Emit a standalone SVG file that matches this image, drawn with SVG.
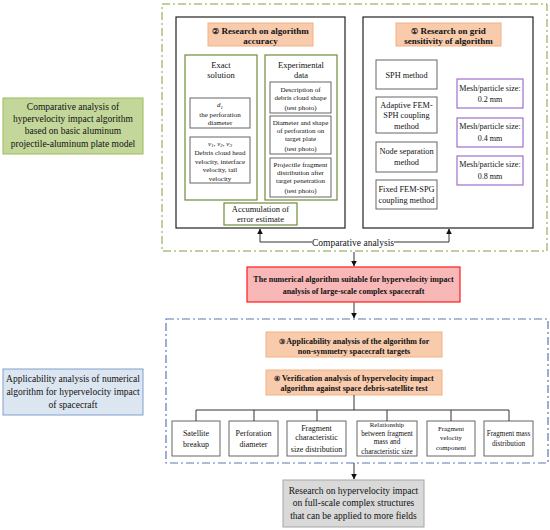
<svg xmlns="http://www.w3.org/2000/svg" width="550" height="530" viewBox="0 0 550 530" font-family="'Liberation Serif', serif">
<style>
text{font-family:'Liberation Serif',serif;fill:#111;text-anchor:middle}
.b{font-weight:bold}
.f95{font-size:9.5px}.f9{font-size:9px}.f85{font-size:8.5px}.f83{font-size:8.3px}.f81{font-size:8.1px}.f8{font-size:8px}.f72{font-size:7.2px}.f7{font-size:7px}.f68{font-size:6.8px}
.blk{fill:#fff;stroke:#222;stroke-width:1.2}
.org{fill:#f8cbad;stroke:#f4b183;stroke-width:1}
.grn{fill:#fff;stroke:#6f8a3c;stroke-width:1.2}
.gry{fill:#fff;stroke:#666;stroke-width:1}
.pur{fill:#fff;stroke:#9e6fcf;stroke-width:1.2}
.line{fill:none;stroke:#333;stroke-width:1}
.cd{font-size:7.5px}
</style>
<defs>
<marker id="ah" viewBox="0 0 10 10" refX="9" refY="5" markerWidth="6" markerHeight="6" orient="auto-start-reverse" markerUnits="userSpaceOnUse">
<path d="M0,0 L10,5 L0,10 z" fill="#111"/>
</marker>
</defs>
<rect width="550" height="530" fill="#fff"/>

<g id="zone-green">
<rect x="162" y="4" width="385" height="247" fill="none" stroke="#7aa03c" stroke-width="1" stroke-dasharray="8,3,2,3"/>
</g>
<g id="zone-blue">
<rect x="166" y="319" width="382" height="144" fill="none" stroke="#5b78b0" stroke-width="1.2" stroke-dasharray="8,3,2,3"/>
</g>

<g id="left-green">
<rect x="3" y="98" width="140" height="56" fill="#c4d79b" stroke="#9bbb59" stroke-width="1"/>
<text class="f95" x="73" y="110">Comparative analysis of</text>
<text class="f95" x="73" y="122">hypervelocity impact algorithm</text>
<text class="f95" x="73" y="134">based on basic aluminum</text>
<text class="f95" x="73" y="147">projectile-aluminum plate model</text>
</g>
<g id="left-blue">
<rect x="3" y="369" width="140" height="46" fill="#dce6f1" stroke="#7f9fcf" stroke-width="1"/>
<text class="f95" x="73" y="382">Applicability analysis of numerical</text>
<text class="f95" x="73" y="395">algorithm for hypervelocity impact</text>
<text class="f95" x="73" y="408">of spacecraft</text>
</g>

<g id="accuracy">
<rect class="blk" x="176" y="17" width="169" height="211"/>
<rect class="org" x="208" y="23" width="105" height="23"/>
<text class="f9 b" x="260.5" y="34"><tspan class="cd">②</tspan> Research on algorithm</text>
<text class="f9 b" x="260.5" y="44">accuracy</text>
</g>
<g id="exact">
<rect class="grn" x="185" y="55" width="72" height="145"/>
<text class="f85" x="221" y="68">Exact</text>
<text class="f85" x="221" y="78">solution</text>
</g>
<g id="d1">
<rect class="gry" x="190" y="98" width="60" height="30"/>
<text class="f7" x="220" y="107" font-style="italic">d<tspan font-size="5" dy="1.5">1</tspan></text>
<text class="f7" x="220" y="116.5">the perforation</text>
<text class="f7" x="220" y="124.5">diameter</text>
</g>
<g id="v123">
<rect class="gry" x="190" y="137" width="60" height="46"/>
<text class="f7" x="220" y="145.5" font-style="italic">v<tspan font-size="5" dy="1.5">1</tspan><tspan dy="-1.5" font-style="normal">, </tspan>v<tspan font-size="5" dy="1.5">2</tspan><tspan dy="-1.5" font-style="normal">, </tspan>v<tspan font-size="5" dy="1.5">3</tspan></text>
<text class="f7" x="220" y="154.5">Debris cloud head</text>
<text class="f7" x="220" y="163.5">velocity, interface</text>
<text class="f7" x="220" y="172">velocity, tail</text>
<text class="f7" x="220" y="180.5">velocity</text>
</g>
<g id="experimental">
<rect class="grn" x="265" y="55" width="72" height="145"/>
<text class="f85" x="301" y="68">Experimental</text>
<text class="f85" x="301" y="78">data</text>
</g>
<g id="desc">
<rect class="gry" x="270" y="82" width="61" height="31"/>
<text class="f7" x="300.5" y="91.5">Description of</text>
<text class="f7" x="300.5" y="99.5">debris cloud shape</text>
<text class="f7" x="300.5" y="109.5">(test photo)</text>
</g>
<g id="diam">
<rect class="gry" x="270" y="116" width="61" height="38"/>
<text class="f7" x="300.5" y="124.5">Diameter and shape</text>
<text class="f7" x="300.5" y="132.5">of perforation on</text>
<text class="f7" x="300.5" y="140.5">target plate</text>
<text class="f7" x="300.5" y="150.5">(test photo)</text>
</g>
<g id="proj">
<rect class="gry" x="270" y="158" width="61" height="39"/>
<text class="f7" x="300.5" y="166.5">Projectile fragment</text>
<text class="f7" x="300.5" y="174.5">distribution after</text>
<text class="f7" x="300.5" y="182.5">target penetration</text>
<text class="f7" x="300.5" y="192.5">(test photo)</text>
</g>
<g id="accum">
<rect class="grn" x="224" y="203" width="73" height="22"/>
<text class="f85" x="260.5" y="212">Accumulation of</text>
<text class="f85" x="260.5" y="222">error estimate</text>
</g>

<g id="grid">
<rect class="blk" x="363" y="17" width="170" height="211"/>
<rect class="org" x="396" y="23" width="105" height="23"/>
<text class="f9 b" x="448.5" y="34"><tspan class="cd">①</tspan> Research on grid</text>
<text class="f9 b" x="448.5" y="44">sensitivity of algorithm</text>
</g>
<g id="sph">
<rect class="gry" x="376" y="60" width="61" height="29"/>
<text class="f83" x="406.5" y="78">SPH method</text>
</g>
<g id="adaptive">
<rect class="gry" x="376" y="97" width="61" height="36"/>
<text class="f83" x="406.5" y="108">Adaptive FEM-</text>
<text class="f83" x="406.5" y="117.5">SPH coupling</text>
<text class="f83" x="406.5" y="129">method</text>
</g>
<g id="node">
<rect class="gry" x="376" y="142" width="61" height="30"/>
<text class="f83" x="406.5" y="154">Node separation</text>
<text class="f83" x="406.5" y="165">method</text>
</g>
<g id="fixed">
<rect class="gry" x="376" y="180" width="61" height="29"/>
<text class="f83" x="406.5" y="192">Fixed FEM-SPG</text>
<text class="f83" x="406.5" y="203">coupling method</text>
</g>
<g id="mesh1">
<rect class="pur" x="457" y="79" width="66" height="29"/>
<text class="f81" x="490" y="91">Mesh/particle size:</text>
<text class="f81" x="490" y="102">0.2 mm</text>
</g>
<g id="mesh2">
<rect class="pur" x="457" y="118" width="66" height="29"/>
<text class="f81" x="490" y="129">Mesh/particle size:</text>
<text class="f81" x="490" y="141">0.4 mm</text>
</g>
<g id="mesh3">
<rect class="pur" x="457" y="156" width="66" height="29"/>
<text class="f81" x="490" y="167">Mesh/particle size:</text>
<text class="f81" x="490" y="179">0.8 mm</text>
</g>

<g id="numerical">
<rect x="247" y="267" width="213" height="35" fill="#f9b8b8" stroke="#ff1a1a" stroke-width="1.2"/>
<text class="f8 b" x="353.5" y="282">The numerical algorithm suitable for hypervelocity impact</text>
<text class="f8 b" x="353.5" y="293.5">analysis of  large-scale complex spacecraft</text>
</g>
<g id="step3">
<rect class="org" x="266" y="332" width="176" height="25"/>
<text class="f8 b" x="354" y="344"><tspan font-size="7">③</tspan> Applicability analysis of the algorithm for</text>
<text class="f8 b" x="354" y="354">non-symmetry spacecraft targets</text>
</g>
<g id="step4">
<rect class="org" x="266" y="370" width="176" height="25"/>
<text class="f8 b" x="354" y="381"><tspan font-size="7">④</tspan> Verification analysis of hypervelocity impact</text>
<text class="f8 b" x="354" y="391">algorithm against space debris-satellite test</text>
</g>
<g id="b1">
<rect class="gry" x="172" y="421" width="48" height="35"/>
<text class="f8" x="196" y="436">Satellite</text>
<text class="f8" x="196" y="447">breakup</text>
</g>
<g id="b2">
<rect class="gry" x="229" y="421" width="49" height="35"/>
<text class="f8" x="253.5" y="436">Perforation</text>
<text class="f8" x="253.5" y="447">diameter</text>
</g>
<g id="b3">
<rect class="gry" x="287" y="421" width="59" height="35"/>
<text class="f8" x="316.5" y="431">Fragment</text>
<text class="f8" x="316.5" y="440">characteristic</text>
<text class="f8" x="316.5" y="452">size distribution</text>
</g>
<g id="b4">
<rect class="gry" x="357" y="421" width="60" height="35"/>
<text class="f68" x="387" y="427">Relationship</text>
<text class="f72" x="387" y="435.5">between fragment</text>
<text class="f72" x="387" y="444">mass and</text>
<text class="f72" x="387" y="453.5">characteristic size</text>
</g>
<g id="b5">
<rect class="gry" x="427" y="421" width="48" height="35"/>
<text class="f68" x="451" y="431">Fragment</text>
<text class="f68" x="451" y="440">velocity</text>
<text class="f68" x="451" y="450">component</text>
</g>
<g id="b6">
<rect class="gry" x="484" y="421" width="49" height="35"/>
<text class="f72" x="508.5" y="436">Fragment mass</text>
<text class="f72" x="508.5" y="446">distribution</text>
</g>
<g id="research">
<rect x="283" y="480" width="141" height="47" fill="#d9d9d9" stroke="#a6a6a6" stroke-width="1"/>
<text class="f95" x="353.5" y="494">Research on hypervelocity impact</text>
<text class="f95" x="353.5" y="506">on full-scale complex structures</text>
<text class="f95" x="353.5" y="519">that can be applied to more fields</text>
</g>

<g id="connectors">
<text x="353" y="245.5" style="font-size:9.5px">Comparative analysis</text>
<path class="line" d="M312,242 H260 V229" marker-end="url(#ah)"/>
<path class="line" d="M394,242 H449 V229" marker-end="url(#ah)"/>
<path class="line" d="M354,252 V266" marker-end="url(#ah)"/>
<path d="M354,302 V318" fill="none" stroke="#777" stroke-width="1.5" marker-end="url(#ah)"/>
<path class="line" stroke="#777" d="M354,395 V410 M196,410 H509 M196,410 V421 M254,410 V421 M317,410 V421 M387,410 V421 M451,410 V421 M509,410 V421"/>
<path class="line" d="M354,463 V479" marker-end="url(#ah)"/>
</g>
</svg>
